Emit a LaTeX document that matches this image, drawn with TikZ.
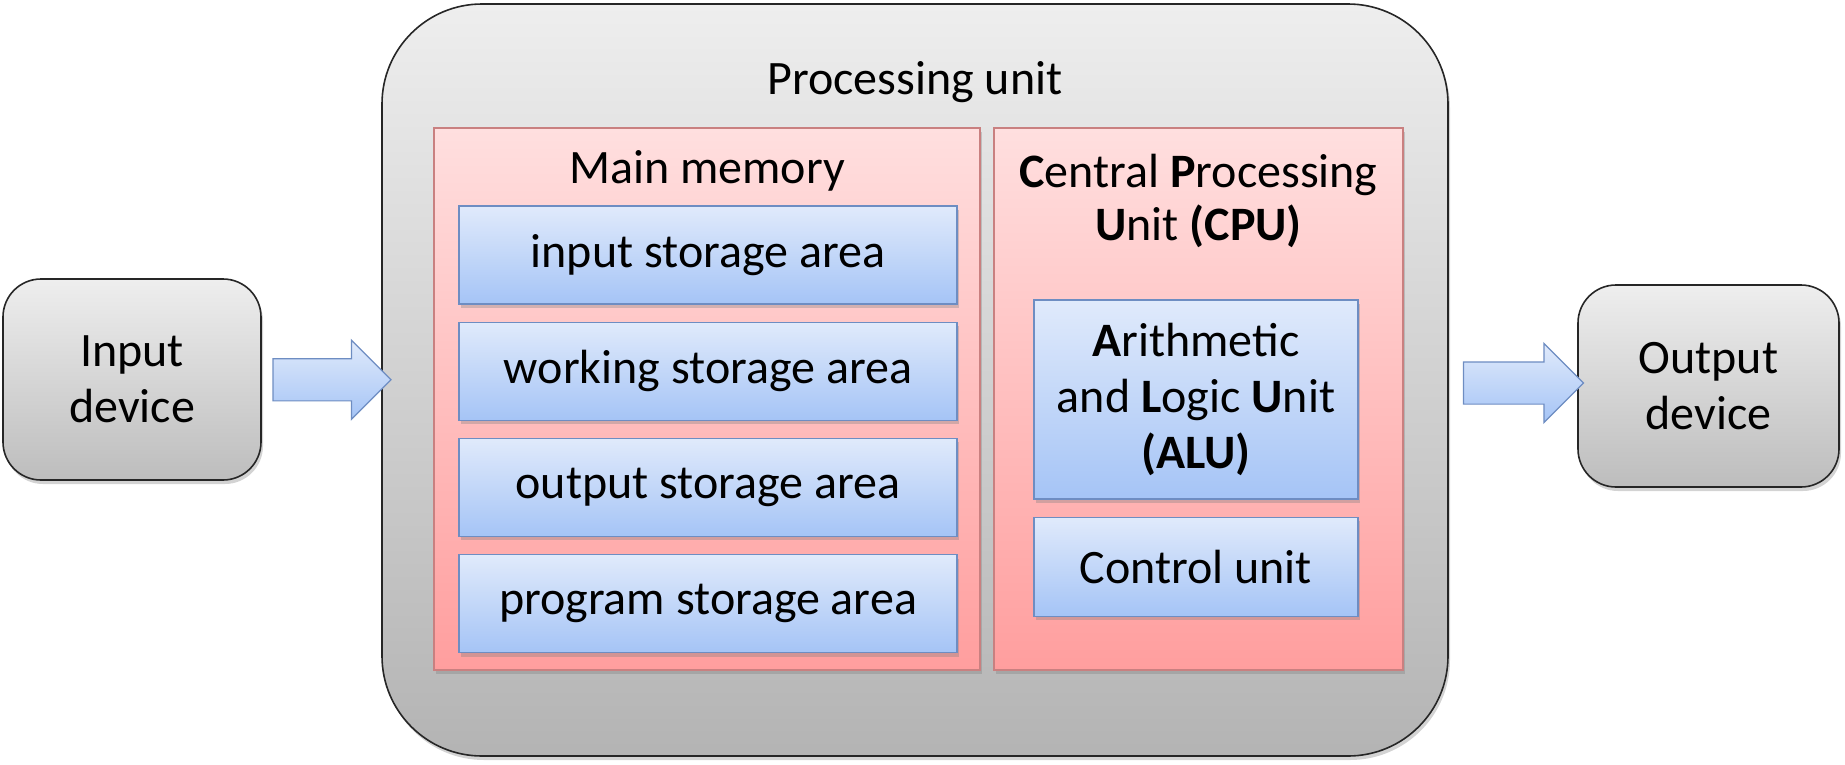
\documentclass[tikz,border=0pt]{standalone}
\usepackage{fontspec}
\setmainfont{Carlito}
\usetikzlibrary{positioning,shadows,shapes.arrows,calc}

\definecolor{greytop}{HTML}{EEEEEE}
\definecolor{greybot}{HTML}{BDBDBD}
\definecolor{pinktop}{HTML}{FFDFDF}
\definecolor{pinkbot}{HTML}{FF9E9E}
\definecolor{pinkline}{HTML}{C98080}
\definecolor{bluetop}{HTML}{E0EAFB}
\definecolor{bluebot}{HTML}{A5C4F6}
\definecolor{blueline}{HTML}{6E8DC2}

\tikzset{
  softshadow/.style={drop shadow={shadow xshift=2pt,shadow yshift=-4pt,opacity=0.35}},
  device/.style={draw=black!85,line width=1.6pt,rounded corners=38pt,
    top color=greytop,bottom color=greybot,align=center,softshadow},
  panel/.style={draw=pinkline,line width=1.2pt,top color=pinktop,
    bottom color=pinkbot,minimum height=542pt,softshadow},
  cell/.style={draw=blueline,line width=1.2pt,top color=bluetop,
    bottom color=bluebot,align=center,softshadow},
  flow/.style={single arrow,draw=blueline,line width=1.2pt,
    top color=bluetop,bottom color=bluebot,single arrow head extend=18.5pt,
    inner xsep=0pt,inner ysep=20.5pt,minimum height=118pt}
}

\begin{document}
\begin{tikzpicture}[x=1pt,y=-1pt,font=\fontsize{48}{56}\selectfont]
\useasboundingbox (0,0) rectangle (1845,764);

% the big unit
\node[draw=black!85,line width=1.6pt,rounded corners=100pt,top color=greytop,
  bottom color=greybot!95!black,minimum width=1066pt,minimum height=752pt,
  softshadow] (pu) at (915,380) {};
\node (putitle) at (915,82) {Processing unit};

% main memory
\node[panel,minimum width=546pt] (mem) at (707,399) {};
\node (memtitle) at (707,171) {Main memory};
\node[cell,minimum width=498pt,minimum height=98pt] (isa) at (708,255) {input storage area};
\node[cell,minimum width=498pt,minimum height=98pt,below=17pt of isa] (wsa) {working storage area};
\node[cell,minimum width=498pt,minimum height=98pt,below=17pt of wsa] (osa) {output storage area};
\node[cell,minimum width=498pt,minimum height=98pt,below=17pt of osa] (psa) {program storage area};

% cpu
\node[panel,minimum width=409pt] (cpu) at (1198.5,399) {};
\node[align=center,font=\fontsize{48}{53}\selectfont] (cputitle) at (1198.5,201)
  {\textbf{C}entral \textbf{P}rocessing\\\textbf{U}nit \textbf{(CPU)}};
\node[cell,minimum width=324pt,minimum height=199pt] (alu) at (1196,399.5)
  {\textbf{A}rithmetic\\and \textbf{L}ogic \textbf{U}nit\\\textbf{(ALU)}};
\node[cell,minimum width=324pt,minimum height=99pt,below=17pt of alu] (cu) {Control unit};

% devices
\node[device,minimum width=258pt,minimum height=201pt] (inp) at (132,379.5) {Input\\device};
\node[device,minimum width=261pt,minimum height=202pt] (out) at (1708.5,386) {Output\\device};

% flows
\node[flow] (arrin) at ($(inp.east)!0.5!(pu.west)$) {};
\node[flow,minimum height=120pt] (arrout) at ($(pu.east)!0.5!(out.west)$) {};
\end{tikzpicture}
\end{document}
